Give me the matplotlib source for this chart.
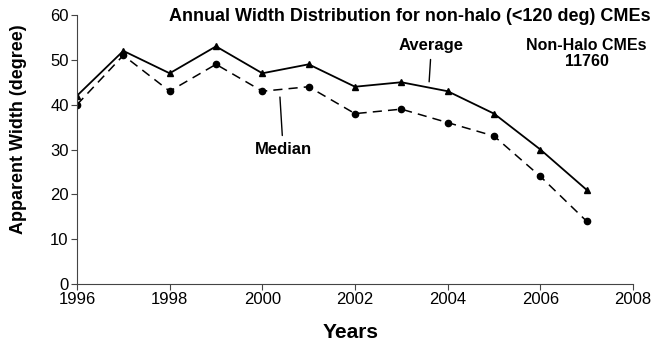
import matplotlib.pyplot as plt

# Yearly CME width values (degrees)
years = [1996, 1997, 1998, 1999, 2000, 2001, 2002, 2003, 2004, 2005, 2006, 2007]
average = [42, 52, 47, 53, 47, 49, 44, 45, 43, 38, 30, 21]
median = [40, 51, 43, 49, 43, 44, 38, 39, 36, 33, 24, 14]

plt.rcParams['font.family'] = ['Liberation Sans', 'DejaVu Sans']

fig = plt.figure(figsize=(6.52, 3.46), dpi=100)
ax = fig.add_axes([77/652, 1 - 284/346, 556/652, 269/346])

ax.plot(years, average, color='black', lw=1.3, marker='^', ms=5)
ax.plot(years, median, color='black', lw=1.1, ls=(0, (6, 4)), marker='o', ms=4.5)

ax.set_xlim(1996, 2008)
ax.set_ylim(0, 60)
ax.set_xticks(range(1996, 2009, 2))
ax.set_yticks(range(0, 61, 10))
for s in ['top', 'right']:
    ax.spines[s].set_visible(False)
ax.spines['left'].set_color('#444444')
ax.spines['bottom'].set_color('#444444')
ax.tick_params(direction='out', length=4, labelsize=12, color='#444444', pad=2)

ax.set_xlabel('Years', fontsize=15, fontweight='bold', va='center')
ax.xaxis.set_label_coords(0.493, -0.182)
ax.set_ylabel('Apparent Width (degree)', fontsize=13, fontweight='bold', va='center')
ax.yaxis.set_label_coords(-0.106, 0.576)

fig.text(0.998, 0.953, 'Annual Width Distribution for non-halo (<120 deg) CMEs',
         ha='right', va='center', fontsize=13, fontweight='bold')

# labels pointing at the two curves
ax.annotate('Median', xy=(2000.38, 41.7), xytext=(2000.45, 29.9), ha='center', va='center',
            fontsize=12, fontweight='bold',
            arrowprops=dict(arrowstyle='-', color='black', lw=1, shrinkA=3, shrinkB=0))
ax.annotate('Average', xy=(2003.6, 45.1), xytext=(2003.65, 53.3), ha='center', va='center',
            fontsize=12, fontweight='bold',
            arrowprops=dict(arrowstyle='-', color='black', lw=1, shrinkA=3, shrinkB=0))
ax.text(2007.0, 51.4, 'Non-Halo CMEs\n11760', ha='center', va='center',
        fontsize=11.5, fontweight='bold', linespacing=1.1)

fig.savefig('out.png', dpi=100)
